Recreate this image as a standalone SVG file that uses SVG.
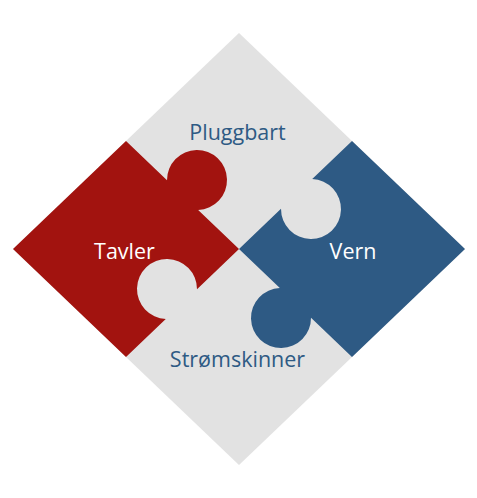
<svg xmlns="http://www.w3.org/2000/svg" width="477" height="498" viewBox="0 0 477 498">
<style>
.lbl{font-family:"Open Sans","Noto Sans","Liberation Sans",sans-serif;font-size:21.5px;text-anchor:middle}
.dark{fill:#2e5a84}
.light{fill:#ffffff}
</style>
<rect width="477" height="498" fill="#ffffff"/>
<g id="base">
<polygon points="239,33 465,249 239,465 13,249" fill="#e2e2e2"/>
<text class="lbl dark" x="237.5" y="140">Pluggbart</text>
<text class="lbl dark" x="237.5" y="367">Strømskinner</text>
</g>
<g id="tavler">
<path d="M13,249 L126,141 L167.00,180.18 A30,30 0 1 1 198.17,209.98 L239,249 L197.00,289.14 A30,30 0 1 0 165.78,318.98 L126,357 Z" fill="#a2130f"/>
<text class="lbl light" x="124.5" y="258.5">Tavler</text>
</g>
<g id="vern">
<path d="M465,249 L352,357 L311.00,317.82 A30,30 0 1 1 279.83,288.02 L239,249 L281.00,208.86 A30,30 0 1 0 312.22,179.02 L352,141 Z" fill="#2e5a84"/>
<text class="lbl light" x="353" y="258.5">Vern</text>
</g>
<g id="connectors"/>
</svg>
